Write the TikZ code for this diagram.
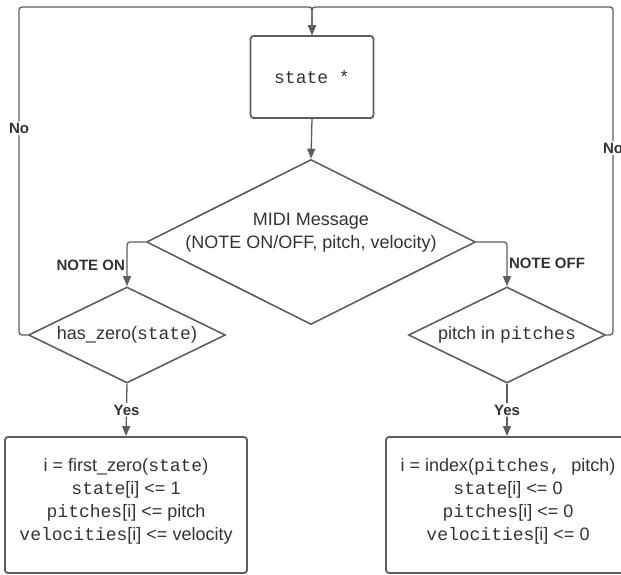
\documentclass[tikz,border=0pt]{standalone}
\usepackage{fontspec}
\setmainfont{Liberation Sans}
\setmonofont{Liberation Mono}
\usetikzlibrary{shapes.geometric,arrows.meta}
\definecolor{linegray}{HTML}{5E5E5E}
\definecolor{textgray}{HTML}{333333}
\begin{document}
\begin{tikzpicture}[x=1pt,y=-1pt,
  every node/.style={text=textgray},
  box/.style={draw=linegray,line width=1.8pt,rounded corners=3pt,inner sep=0pt},
  decision/.style={diamond,draw=linegray,line width=1.6pt,inner sep=0pt,aspect=2},
  link/.style={draw=linegray,line width=1.3pt,rounded corners=3pt},
  arr/.style={link,-{Triangle[width=8pt,length=10pt]}},
  lbl/.style={font=\fontsize{15}{17}\selectfont\bfseries,inner sep=1.5pt},
  txt/.style={font=\fontsize{18}{23}\selectfont,align=center}
]
\useasboundingbox (0,0) rectangle (621,575);

% process boxes
\node[box,minimum width=123pt,minimum height=82pt,txt] (st) at (312,77) {\texttt{state *}};
\node[box,minimum width=242pt,minimum height=136pt] (onb) at (126,505) {};
\node[box,minimum width=242pt,minimum height=136pt] (offb) at (507,505) {};
\node[txt] (ont) at (126,501) {i = first\_zero(\texttt{state})\\
  \texttt{state}[i] <= 1\\
  \texttt{pitches}[i] <= pitch\\
  \texttt{velocities}[i] <= velocity};
\node[txt] (offt) at (508,501) {i = index(\texttt{pitches, }pitch)\\
  \texttt{state}[i] <= 0\\
  \texttt{pitches}[i] <= 0\\
  \texttt{velocities}[i] <= 0};

% decisions
\node[decision,minimum width=329pt,minimum height=165pt] (midi) at (311,242) {};
\node[txt] (midit) at (311,233) {MIDI Message\\(NOTE ON/OFF, pitch, velocity)};
\node[decision,minimum width=197pt,minimum height=96pt,txt] (hz) at (127,335) {has\_zero(\texttt{state})};
\node[decision,minimum width=197pt,minimum height=96pt,txt] (pp) at (507,335) {pitch in \texttt{pitches}};

% loop-back corners
\coordinate (lc) at (19,7);
\coordinate (rc) at (613,7);

% connectors
\draw[arr] (st.south) -- (midi.north);
\draw[arr] (midi.west) -| node[lbl,pos=0.76,left] {NOTE ON} (hz.north);
\draw[arr] (midi.east) -| node[lbl,pos=0.74,right] {NOTE OFF} (pp.north);
\draw[arr] (hz.south) -- node[lbl,fill=white] {Yes} (onb.north);
\draw[arr] (pp.south) -- node[lbl,fill=white] {Yes} (offb.north);
\draw[arr] (hz.west) -| node[lbl,fill=white,pos=0.815] {No} (lc) -| (st.north);
\draw[arr] (pp.east) -| node[lbl,fill=white,pos=0.785] {No} (rc) -| (st.north);
\end{tikzpicture}
\end{document}
